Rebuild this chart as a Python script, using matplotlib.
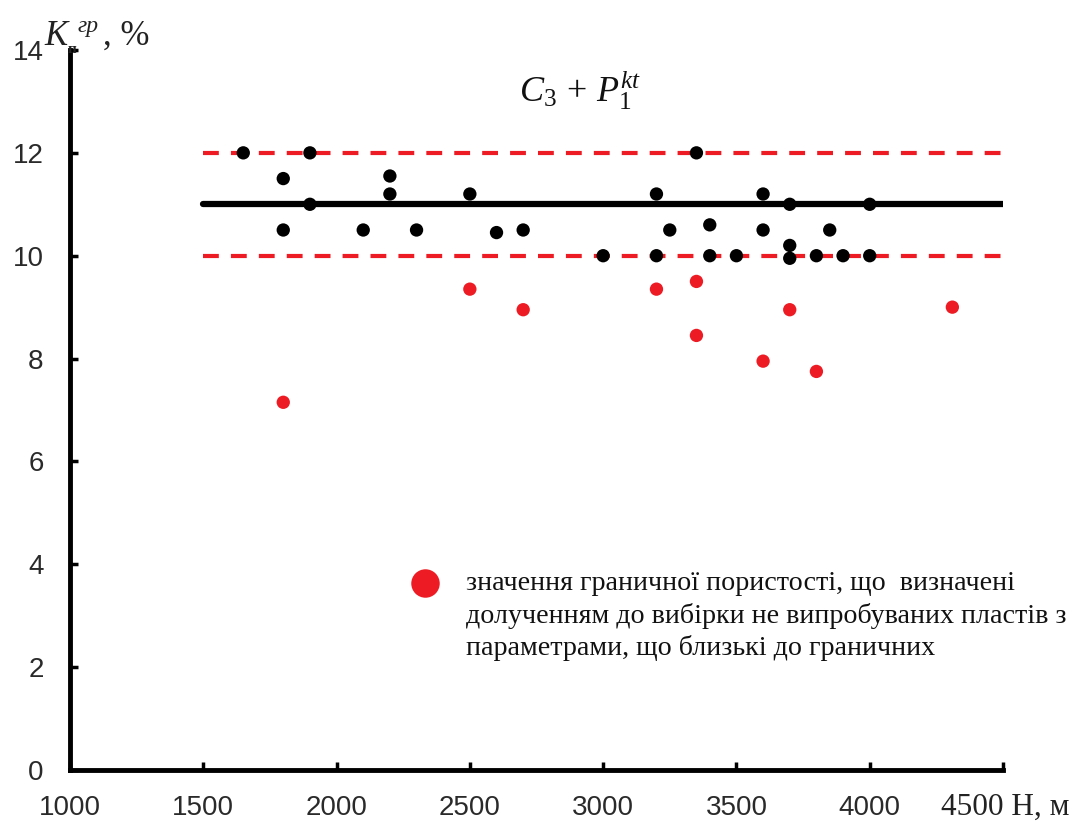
import matplotlib
matplotlib.use("Agg")
import matplotlib.pyplot as plt
from matplotlib.lines import Line2D

plt.rcParams['mathtext.fontset'] = 'custom'
plt.rcParams['mathtext.rm'] = 'Liberation Serif'
plt.rcParams['mathtext.it'] = 'Liberation Serif:italic'
plt.rcParams['mathtext.bf'] = 'Liberation Serif:bold'

# ---- data ----
black_depth = [1650, 1800, 1800, 1900, 1900, 2100, 2200, 2200, 2300, 2500,
               2600, 2700, 3000, 3200, 3200, 3250, 3350, 3400, 3400, 3500,
               3600, 3600, 3700, 3700, 3700, 3800, 3850, 3900, 4000, 4000]
black_por = [12.0, 11.5, 10.5, 12.0, 11.0, 10.5, 11.55, 11.2, 10.5, 11.2,
             10.45, 10.5, 10.0, 11.2, 10.0, 10.5, 12.0, 10.6, 10.0, 10.0,
             11.2, 10.5, 11.0, 10.2, 9.95, 10.0, 10.5, 10.0, 11.0, 10.0]

red_depth = [1800, 2500, 2700, 3200, 3350, 3350, 3600, 3700, 3800, 4310]
red_por = [7.15, 9.35, 8.95, 9.35, 9.5, 8.45, 7.95, 8.95, 7.75, 9.0]

line_x = [1500, 4500]
mean_level = 11.0
upper_level = 12.0
lower_level = 10.0

x_ticks = [1000, 1500, 2000, 2500, 3000, 3500, 4000, 4500]
x_labels = ['1000', '1500', '2000', '2500', '3000', '3500', '4000', '']
y_ticks = [0, 2, 4, 6, 8, 10, 12, 14]
y_labels = ['0', '2', '4', '6', '8', '10', '12', '14']

legend_lines = ['значення граничної пористості, що  визначені',
                'долученням до вибірки не випробуваних пластів з',
                'параметрами, що близькі до граничних']

RED = '#ED1C24'
W, H = 1079, 821

fig = plt.figure(figsize=(W / 100, H / 100), dpi=100)
ax = fig.add_axes([70 / W, 1 - 770 / H, (1003 - 70) / W, (770 - 50) / H])

ax.plot(line_x, [upper_level] * 2, color=RED, lw=3, linestyle=(0, (3.8, 2.9)),
        dash_capstyle='butt', zorder=2)
ax.plot(line_x, [lower_level] * 2, color=RED, lw=3, linestyle=(0, (3.8, 2.9)),
        dash_capstyle='butt', zorder=2)
ax.plot(line_x, [mean_level] * 2, color='black', lw=4.5, solid_capstyle='round', zorder=2)

ax.scatter(black_depth, black_por, s=92, color='black', edgecolors='none', zorder=3, clip_on=False)
ax.scatter(red_depth, red_por, s=92, color=RED, edgecolors='none', zorder=3, clip_on=False)

ax.set_xlim(1000, 4500)
ax.set_ylim(0, 14)
for s in ['top', 'right']:
    ax.spines[s].set_visible(False)
for s in ['left', 'bottom']:
    ax.spines[s].set_linewidth(3.5)
    ax.spines[s].set_capstyle('projecting')

ax.set_xticks(x_ticks)
ax.set_xticklabels(x_labels)
ax.set_yticks(y_ticks)
ax.set_yticklabels(y_labels)
ax.tick_params(direction='in', length=6, width=2.5, colors='black')
ax.tick_params(axis='x', pad=18, labelsize=20)
ax.tick_params(axis='y', pad=19, labelsize=20)
for lab in ax.get_xticklabels() + ax.get_yticklabels():
    lab.set_fontfamily('Liberation Sans')
    lab.set_color('#2a2a2a')

# x axis end label
fig.text(941 / W, 1 - 815 / H, '4500 Н, м', family='Liberation Serif', fontsize=22.5,
         ha='left', va='baseline', color='#222222')

# y axis label, composed piece by piece
fig.text(44 / W, 1 - 45 / H, 'K', family='Liberation Serif', style='italic',
         fontsize=25, ha='left', va='baseline', color='#222222')
fig.text(68 / W, 1 - 53 / H, 'п', family='Liberation Serif', fontsize=11,
         fontweight='bold', ha='left', va='baseline', color='#222222')
fig.text(78 / W, 1 - 32 / H, 'гр', family='Liberation Serif', style='italic',
         fontsize=17, ha='left', va='baseline', color='#222222')
fig.text(103 / W, 1 - 45 / H, ', %', family='Liberation Serif',
         fontsize=25, ha='left', va='baseline', color='#222222')

# title
fig.text(580 / W, 1 - 101 / H, r'$C_{\mathit{3}}\,+\,P_{\mathit{1}}^{kt}$', family='Liberation Serif',
         fontsize=26, ha='center', va='baseline', color='#111111')

# legend
fig.add_artist(Line2D([425 / W], [1 - 583 / H], transform=fig.transFigure, marker='o',
                      markersize=20.5, color=RED, markeredgewidth=0, linestyle='none'))
for i, t in enumerate(legend_lines):
    fig.text(466 / W, 1 - (590 + 32.5 * i) / H, t, family='Liberation Serif', fontsize=20.2,
             ha='left', va='baseline', color='#111111')

fig.savefig('out.png', dpi=100)
